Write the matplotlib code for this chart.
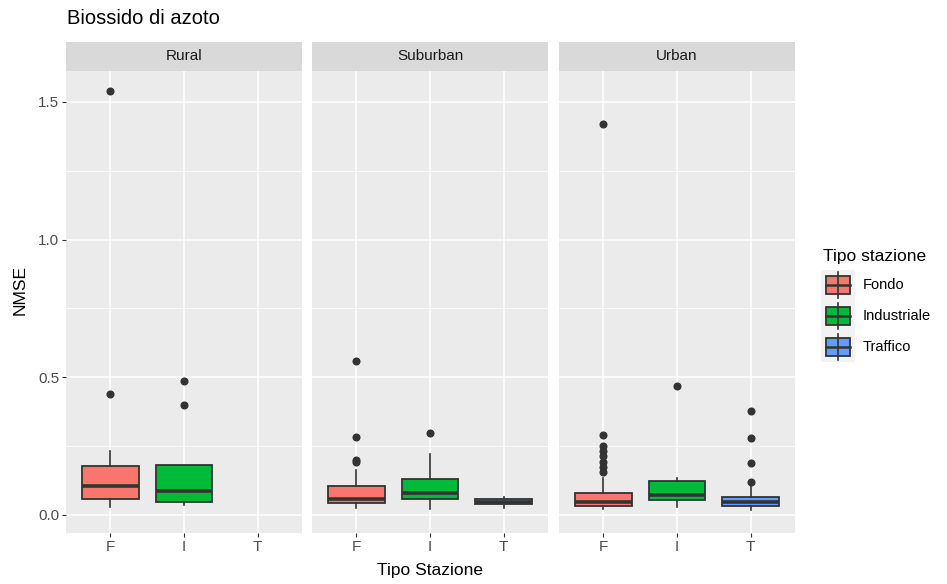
import numpy as np
import matplotlib.pyplot as plt
from matplotlib.patches import Rectangle
from matplotlib.lines import Line2D

plt.rcParams['font.family'] = ['Liberation Sans', 'DejaVu Sans']

panels = ["Rural", "Suburban", "Urban"]
tipi = ["F", "I", "T"]
legend_labels = ["Fondo", "Industriale", "Traffico"]
colors = ["#F8766D", "#00BA38", "#619CFF"]

# box stats per panel, per tipo (None = no data)
q1 = [[0.058, 0.047, None], [0.044, 0.058, 0.040], [0.033, 0.054, 0.033]]
med = [[0.105, 0.087, None], [0.058, 0.080, 0.047], [0.047, 0.073, 0.047]]
q3 = [[0.178, 0.181, None], [0.105, 0.131, 0.058], [0.080, 0.123, 0.065]]
wlo = [[0.029, 0.036, None], [0.025, 0.022, 0.025], [0.022, 0.029, 0.018]]
whi = [[0.232, 0.181, None], [0.163, 0.221, 0.065], [0.134, 0.134, 0.105]]
outliers = [
    [[1.54, 0.44], [0.485, 0.40], []],
    [[0.559, 0.283, 0.20, 0.193], [0.298], []],
    [[1.42, 0.29, 0.25, 0.232, 0.214, 0.192, 0.174, 0.156], [0.468], [0.377, 0.28, 0.189, 0.12]],
]

W, H = 947, 584
fig = plt.figure(figsize=(W / 100, H / 100), dpi=100)


def fx(px):
    return px / W


def fy(py):
    return 1 - py / H


lefts = [66, 312, 559]
pw = 236
top_px, bot_px = 71, 533
strip_h = 29

for p, name in enumerate(panels):
    ax = fig.add_axes([fx(lefts[p]), fy(bot_px), pw / W, (bot_px - top_px) / H])
    ax.set_facecolor("#EBEBEB")
    for s in ax.spines.values():
        s.set_visible(False)

    for i in range(3):
        if q1[p][i] is None:
            continue
        st = [dict(med=med[p][i], q1=q1[p][i], q3=q3[p][i],
                   whislo=wlo[p][i], whishi=whi[p][i], fliers=outliers[p][i])]
        ax.bxp(st, positions=[i + 1], widths=0.77, showcaps=False, patch_artist=True,
               manage_ticks=False,
               boxprops=dict(facecolor=colors[i], edgecolor="#333333", lw=1.3),
               medianprops=dict(color="#333333", lw=2.6, solid_capstyle="butt"),
               whiskerprops=dict(color="#333333", lw=1.2),
               flierprops=dict(marker="o", markerfacecolor="#333333",
                               markeredgecolor="#333333", markersize=4.8))

    ax.set_xlim(0.4, 3.6)
    ax.set_ylim(-0.066, 1.612)
    ax.set_yticks([0, 0.5, 1.0, 1.5])
    ax.set_yticks([0.25, 0.75, 1.25], minor=True)
    ax.set_xticks([1, 2, 3])
    ax.set_xticklabels(tipi)
    ax.grid(which="major", color="white", lw=1.1)
    ax.grid(which="minor", axis="y", color="white", lw=0.55)
    ax.tick_params(which="minor", length=0)
    ax.tick_params(which="major", length=3, color="#333333", labelsize=11,
                   labelcolor="#4D4D4D", pad=2)
    ax.set_axisbelow(True)
    if p == 0:
        ax.set_yticklabels(["0.0", "0.5", "1.0", "1.5"])
    else:
        ax.tick_params(axis="y", length=0, labelleft=False)

    sax = fig.add_axes([fx(lefts[p]), fy(top_px), pw / W, strip_h / H])
    sax.set_facecolor("#D9D9D9")
    sax.set_xticks([])
    sax.set_yticks([])
    for s in sax.spines.values():
        s.set_visible(False)
    sax.text(0.5, 0.5, name, ha="center", va="center", fontsize=11,
             color="#1A1A1A", transform=sax.transAxes)

fig.text(fx(67), fy(18), "Biossido di azoto", fontsize=14.5, va="center", ha="left")
fig.text(fx(20), fy(290), "NMSE", rotation=90, fontsize=12.5, va="center", ha="center")
fig.text(fx(430), fy(571), "Tipo Stazione", fontsize=12.5, va="center", ha="center")

# legend drawn by hand in figure coordinates
fig.text(fx(823), fy(256), "Tipo stazione", fontsize=12.5, va="center", ha="left")
key_y = [285, 316, 347]
fig.add_artist(Rectangle((fx(821), fy(362)), 34 / W, 92 / H,
                         facecolor="#F2F2F2", edgecolor="none", transform=fig.transFigure))
for i, lab in enumerate(legend_labels):
    cy = key_y[i]
    fig.add_artist(Line2D([fx(838), fx(838)], [fy(cy - 13), fy(cy + 13)],
                          color="#333333", lw=1.2, transform=fig.transFigure))
    fig.add_artist(Rectangle((fx(826), fy(cy + 9)), 24 / W, 18 / H, facecolor=colors[i],
                             edgecolor="#333333", lw=1.3, transform=fig.transFigure))
    fig.add_artist(Line2D([fx(826), fx(850)], [fy(cy), fy(cy)],
                          color="#333333", lw=1.8, transform=fig.transFigure))
    fig.text(fx(863), fy(cy), lab, fontsize=10.5, va="center", ha="left")

fig.savefig("out.png", dpi=100)
